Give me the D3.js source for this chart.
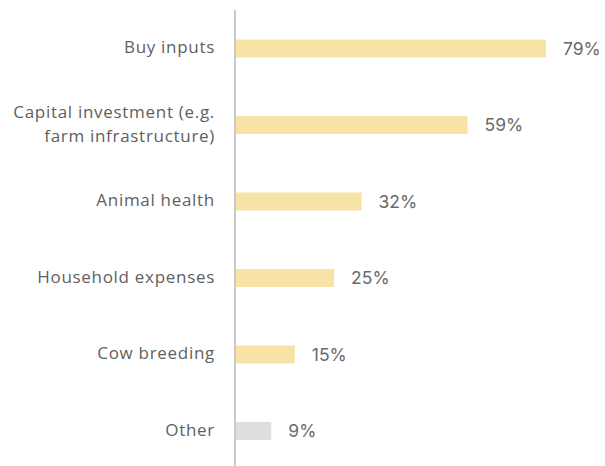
<!DOCTYPE html>
<html>
<head>
<meta charset="utf-8">
<script src="https://cdn.jsdelivr.net/npm/d3@7"></script>
<style>
  html, body { margin: 0; padding: 0; background: #fff; }
  svg { display: block; }
</style>
</head>
<body>
<svg id="chart" width="605" height="466"></svg>
<script>
// Uses of funds, share of respondents (%)
const categories = [
  ["Buy inputs"],
  ["Capital investment (e.g.", "farm infrastructure)"],
  ["Animal health"],
  ["Household expenses"],
  ["Cow breeding"],
  ["Other"]
];
const values = [79, 59, 32, 25, 15, 9];
const barColors = ["#F8E3A7", "#F8E3A7", "#F8E3A7", "#F8E3A7", "#F8E3A7", "#DDDEE0"];

const svg = d3.select("#chart");
const axisX = 235;
const axisTop = 10, axisBottom = 466;

const x = d3.scaleLinear().domain([0, 79]).range([axisX + 1, 546]);
const y = d3.scaleBand()
  .domain(d3.range(categories.length))
  .range([8.9, 470.6])
  .paddingInner(0.765)
  .paddingOuter(0.4);

const rows = svg.append("g").selectAll("g")
  .data(values)
  .join("g");

rows.append("rect")
  .attr("x", x(0))
  .attr("y", (d, i) => y(i))
  .attr("width", d => x(d) - x(0))
  .attr("height", y.bandwidth())
  .attr("fill", (d, i) => barColors[i]);

rows.append("text")
  .attr("x", d => x(d) + 17)
  .attr("y", (d, i) => y(i) + y.bandwidth() / 2)
  .attr("dy", "0.36em")
  .attr("font-family", "Inter, 'Open Sans', sans-serif")
  .attr("font-size", 17.5)
  .attr("fill", "#6a6a6a")
  .text(d => d + "%");

// category labels, right-aligned against the axis
rows.append("text")
  .attr("text-anchor", "end")
  .attr("font-family", "'Open Sans', sans-serif")
  .attr("font-size", 17)
  .attr("letter-spacing", 0.7)
  .attr("fill", "#5f5f5f")
  .each(function(d, i) {
    const lines = categories[i];
    const cy = y(i) + y.bandwidth() / 2 - 1.5;
    const lh = 24;
    d3.select(this).selectAll("tspan")
      .data(lines)
      .join("tspan")
      .attr("x", 215)
      .attr("y", (l, k) => cy + (k - (lines.length - 1) / 2) * lh)
      .attr("dy", "0.36em")
      .text(l => l);
  });

svg.append("line")
  .attr("x1", axisX).attr("x2", axisX)
  .attr("y1", axisTop).attr("y2", axisBottom)
  .attr("stroke", "#A6A6A6")
  .attr("stroke-width", 1.2);
</script>
</body>
</html>
